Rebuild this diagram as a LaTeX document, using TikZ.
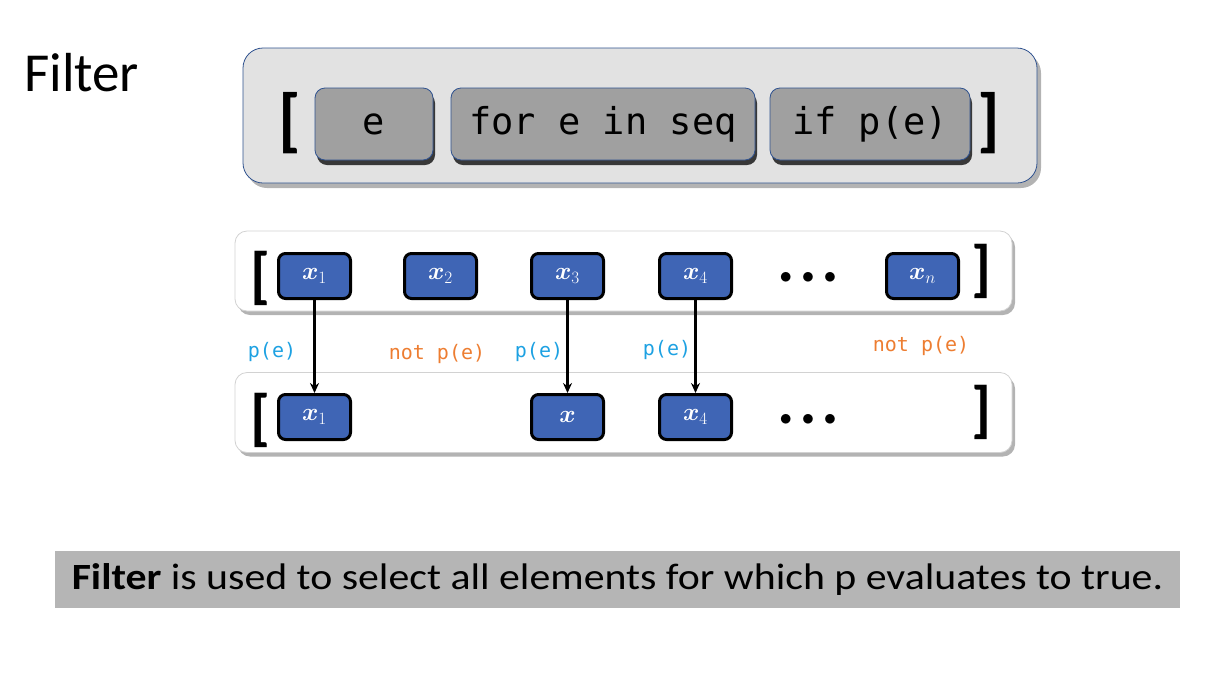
\documentclass[tikz,border=0pt]{standalone}
\usepackage{fontspec}
\usepackage{amsmath,bm}
\setmainfont{Carlito}
\newfontfamily\codefont{DejaVu Sans Mono}
\newfontfamily\capfont[FakeStretch=1.13]{Carlito}
\usetikzlibrary{positioning,shadows,arrows.meta}
\definecolor{panelgray}{RGB}{226,226,226}
\definecolor{codegray}{RGB}{160,160,160}
\definecolor{edgeblue}{RGB}{47,82,143}
\definecolor{elemblue}{RGB}{63,101,181}
\definecolor{predblue}{RGB}{29,161,226}
\definecolor{notorange}{RGB}{237,125,49}
\definecolor{capgray}{RGB}{181,181,181}
\newcommand{\fsz}[1]{\fontsize{#1}{1.2\dimexpr#1pt\relax}\selectfont}

\begin{document}
\begin{tikzpicture}[
  x=1pt, y=-1pt,
  panel/.style={rectangle, rounded corners=20pt, draw=edgeblue, line width=0.8pt,
                fill=panelgray, minimum width=794pt, minimum height=135pt,
                drop shadow={shadow xshift=4pt, shadow yshift=-5pt, fill=gray, opacity=0.6}},
  code/.style={rectangle, rounded corners=10pt, draw=edgeblue, line width=0.8pt,
               fill=codegray, minimum height=72pt, font=\codefont\fsz{37},
               drop shadow={shadow xshift=2pt, shadow yshift=-5pt, fill=black, opacity=0.75}},
  row/.style={rectangle, rounded corners=12pt, draw=gray!35, line width=0.8pt,
              fill=white, minimum width=777pt, minimum height=80pt,
              drop shadow={shadow xshift=3pt, shadow yshift=-4pt, fill=gray, opacity=0.6}},
  elem/.style={rectangle, rounded corners=7pt, draw=black, line width=3pt,
               fill=elemblue, minimum width=72pt, minimum height=45pt,
               text=white, font=\fsz{27}},
  brk/.style={inner sep=0pt, font=\bfseries\fsz{#1}},
  brk/.default=62,
  dots/.style={inner sep=0pt, font=\fsz{30}},
  arr/.style={-{Stealth[length=10pt,width=9pt]}, line width=2.5pt, black},
  yes/.style={text=predblue, font=\codefont\fsz{20}},
  no/.style={text=notorange, font=\codefont\fsz{20}}
]
\useasboundingbox (0,0) rectangle (1224,681);

% comprehension syntax
\node[anchor=west, inner sep=0pt, font=\fsz{55}] (title) at (24,73) {Filter};
\node[panel] (outer) at (640,115.5) {};
\node[code, minimum width=118pt] (elt)  at (374,124) {e};
\node[code, minimum width=304pt] (loop) at (603,124) {for e in seq};
\node[code, minimum width=200pt] (cond) at (870,124) {if p(e)};
\node[brk=70] (lb) at (290,123) {[};
\node[brk=70] (rb) at (989,123) {]};

% source list
\node[row] (src) at (623.5,271) {};
\node[brk] (slb) at (261,278) {[};
\node[brk] (srb) at (982,271) {]};
\node[elem] (s1) at (314.5,276) {$\bm{x}_{1}$};
\node[elem] (s2) at (440.5,276) {$\bm{x}_{2}$};
\node[elem] (s3) at (567.5,276) {$\bm{x}_{3}$};
\node[elem] (s4) at (695.5,276) {$\bm{x}_{4}$};
\node[dots] (sd) at (808,278) {$\bullet\,\bullet\,\bullet$};
\node[elem] (sn) at (922.5,276) {$\bm{x}_{n}$};

% filtered list
\node[row] (dst) at (623.5,412.5) {};
\node[brk] (dlb) at (261,420) {[};
\node[brk] (drb) at (982,412) {]};
\node[elem] (d1) at (314.5,417) {$\bm{x}_{1}$};
\node[elem] (d3) at (567.5,417) {$\bm{x}$};
\node[elem] (d4) at (695.5,417) {$\bm{x}_{4}$};
\node[dots] (dd) at (808,420) {$\bullet\,\bullet\,\bullet$};

\draw[arr] (s1) -- (d1);
\draw[arr] (s3) -- (d3);
\draw[arr] (s4) -- (d4);

\node[yes] (p1) at (272,352) {p(e)};
\node[no]  (n2) at (437,354) {not p(e)};
\node[yes] (p3) at (539,352) {p(e)};
\node[yes] (p4) at (667,350) {p(e)};
\node[no]  (nn) at (921,346) {not p(e)};

% caption
\node[rectangle, fill=capgray, minimum width=1125pt, minimum height=57pt,
      font=\capfont\fsz{37}] (cap) at (617.5,579.5)
  {\textbf{Filter} is used to select all elements for which p evaluates to true.};
\end{tikzpicture}
\end{document}
